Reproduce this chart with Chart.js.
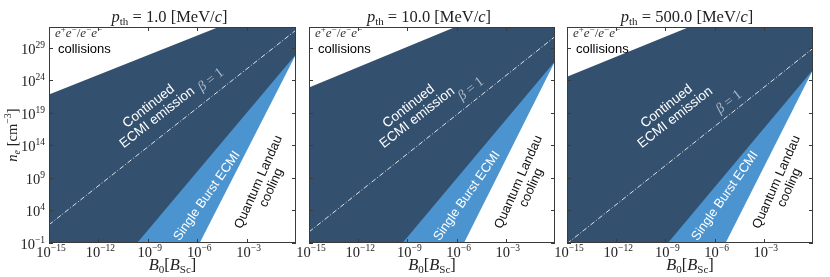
<!DOCTYPE html>
<html lang="en">
<head>
<meta charset="UTF-8">
<title>ECMI regimes</title>
<script src="https://cdn.jsdelivr.net/npm/chart.js"></script>
<style>
  body { margin: 0; background: #fff; }
  #wrap { position: relative; width: 830px; height: 277px; }
  #wrap canvas { position: absolute; left: 0; top: 0; }
</style>
</head>
<body>
<div id="wrap">
  <canvas id="c0" width="830" height="277"></canvas>
  <canvas id="c1" width="830" height="277"></canvas>
  <canvas id="c2" width="830" height="277"></canvas>
</div>
<script>
// thermal momentum of each panel, MeV/c
const momenta = ['1.0', '10.0', '500.0'];
// tick positions, log10
const xTicks = [-15, -12, -9, -6, -3];
const yTicks = [-1, 4, 9, 14, 19, 24, 29];

// boundaries as [log10 B0, log10 n_e] pairs, one list per panel
const collisionEdge = [[[-15, 21.8], [0, 36.9]], [[-15, 22.9], [0, 38.5]], [[-15, 24.55], [0, 39.9]]];
const betaOne = [[[-15, 1.8], [0, 31.7]], [[-15, 0.7], [0, 30.7]], [[-15, -1.1], [0, 28.9]]];
const burstEdge = [[[-9.65, -1], [0, 28]], [[-9.3, -1], [0, 26.9]], [[-8.85, -1], [0, 25.6]]];
const landauEdge = [[[-5.85, -1], [0, 28]], [[-5.55, -1], [0, 26.9]], [[-5.33, -1], [0, 25.6]]];

// layout
const boxes = [[49, 296], [309, 555], [567, 813]];
const TOP = 27, BOTTOM = 243;
const betaLabelY = [80, 89, 102];

const DARK = '#34506f', LIGHT = '#4b94cf';
const SERIF = 'Liberation Serif', SANS = 'Liberation Sans';

const pts = arr => arr.map(([lx, ly]) => ({ x: Math.pow(10, lx), y: Math.pow(10, ly) }));

function rich(ctx, parts, x, y, align) {
    let w = 0;
    parts.forEach(p => { ctx.font = p[1]; w += ctx.measureText(p[0]).width; });
    let cx = align === 'center' ? x - w / 2 : align === 'right' ? x - w : x;
    ctx.textAlign = 'left';
    parts.forEach(p => {
        ctx.font = p[1];
        ctx.fillText(p[0], cx, y + (p[2] || 0));
        cx += ctx.measureText(p[0]).width;
    });
}

function power(exp) {
    return [['10', '14.5px ' + SERIF], [exp < 0 ? '\u2212' + (-exp) : String(exp), '9.5px ' + SERIF, -6]];
}

function rotated(ctx, lines, cx, cy, deg, font, color, lh) {
    ctx.save();
    ctx.translate(cx, cy);
    ctx.rotate(deg * Math.PI / 180);
    ctx.font = font;
    ctx.fillStyle = color;
    ctx.textAlign = 'center';
    ctx.textBaseline = 'middle';
    lines.forEach((t, k) => ctx.fillText(t, 0, (k - (lines.length - 1) / 2) * lh));
    ctx.restore();
}

const decor = {
    id: 'decor',
    afterDatasetsDraw(chart, args, opts) {
        const ctx = chart.ctx, a = chart.chartArea;
        const xs = chart.scales.x, ys = chart.scales.y;
        const i = opts.panel, L = a.left;
        ctx.save();

        // region labels
        rotated(ctx, ['Continued', 'ECMI emission'], L + 104, 112, -38, '13.5px ' + SANS, '#ffffff', 14);
        rotated(ctx, ['Single Burst ECMI'], L + 158, 196, -55, '13px ' + SANS, '#ffffff', 14);
        rotated(ctx, ['Quantum Landau', 'cooling'], L + 216, 185, -66, '13px ' + SANS, '#111111', 14);
        ctx.save();
        ctx.translate(L + 162, betaLabelY[i]);
        ctx.rotate(-38 * Math.PI / 180);
        ctx.fillStyle = '#aeb8c4';
        ctx.textBaseline = 'middle';
        rich(ctx, [['\u03b2', 'italic 14px ' + SERIF], [' = 1', '14px ' + SERIF]], 0, 0, 'center');
        ctx.restore();

        ctx.fillStyle = '#333';
        ctx.textBaseline = 'alphabetic';
        const it = 'italic 13px ' + SERIF, sup = '9px ' + SERIF;
        rich(ctx, [['e', it], ['+', sup, -5], ['e', it], ['\u2212', sup, -5], ['/', '13px ' + SERIF], ['e', it], ['\u2212', sup, -5], ['e', it], ['\u2212', sup, -5]], L + 6, 37, 'left');
        ctx.fillStyle = '#000';
        ctx.font = '13px ' + SANS;
        ctx.fillText('collisions', L + 9, 53);

        // frame and inward ticks
        ctx.strokeStyle = '#3a3a3a';
        ctx.lineWidth = 1;
        ctx.strokeRect(a.left + 0.5, a.top + 0.5, a.right - a.left - 1, a.bottom - a.top - 1);
        ctx.beginPath();
        xTicks.forEach(v => {
            const px = Math.round(xs.getPixelForValue(Math.pow(10, v))) + 0.5;
            ctx.moveTo(px, a.bottom); ctx.lineTo(px, a.bottom - 4);
            ctx.moveTo(px, a.top); ctx.lineTo(px, a.top + 4);
        });
        yTicks.forEach(v => {
            const py = Math.round(ys.getPixelForValue(Math.pow(10, v))) + 0.5;
            ctx.moveTo(a.left, py); ctx.lineTo(a.left + 4, py);
            ctx.moveTo(a.right, py); ctx.lineTo(a.right - 4, py);
        });
        ctx.stroke();

        // tick labels
        ctx.fillStyle = '#222';
        xTicks.forEach(v => {
            rich(ctx, power(v), xs.getPixelForValue(Math.pow(10, v)) + 2, a.bottom + 14, 'center');
        });
        if (i === 0) {
            yTicks.forEach(v => {
                rich(ctx, power(v), 45, ys.getPixelForValue(Math.pow(10, v)) + 6, 'right');
            });
        }

        // titles
        const mid = (a.left + a.right) / 2;
        const big = '16.5px ' + SERIF, bigI = 'italic 16.5px ' + SERIF, sm = '11px ' + SERIF;
        rich(ctx, [['p', bigI], ['th', sm, 3], [' = ' + momenta[i] + ' [MeV/', big], ['c', bigI], [']', big]], mid - 3, 22, 'center');
        rich(ctx, [['B', bigI], ['0', sm, 3], ['[', big], ['B', bigI], ['Sc', sm, 3], [']', big]], mid, 270, 'center');
        if (i === 0) {
            const yb = '14.5px ' + SERIF;
            ctx.save();
            ctx.translate(17, (a.top + a.bottom) / 2);
            ctx.rotate(-Math.PI / 2);
            rich(ctx, [['n', 'italic ' + yb], ['e', 'italic 10px ' + SERIF, 3], [' [cm', yb], ['\u22123', '10px ' + SERIF, -6], [']', yb]], 0, 0, 'center');
            ctx.restore();
        }
        ctx.restore();
    }
};

momenta.forEach((p, i) => {
    const area = { borderWidth: 0, pointRadius: 0, showLine: true, fill: 'start' };
    new Chart(document.getElementById('c' + i), {
        type: 'scatter',
        data: {
            datasets: [
                { ...area, label: 'Continued ECMI emission', data: pts(collisionEdge[i]), backgroundColor: DARK, order: 4 },
                { ...area, label: 'Single Burst ECMI', data: pts(burstEdge[i]), backgroundColor: LIGHT, order: 3 },
                { ...area, label: 'Quantum Landau cooling', data: pts(landauEdge[i]), backgroundColor: '#ffffff', order: 2 },
                {
                    label: 'beta = 1', data: pts(betaOne[i]), showLine: true, fill: false, pointRadius: 0,
                    borderColor: '#dde2e8', borderWidth: 1, borderDash: [5, 2, 1, 2], order: 1
                }
            ]
        },
        options: {
            responsive: false,
            animation: false,
            events: [],
            layout: { padding: { left: boxes[i][0], right: 830 - boxes[i][1], top: TOP, bottom: 277 - BOTTOM } },
            scales: {
                x: { type: 'logarithmic', min: 1e-15, max: 1, display: false },
                y: { type: 'logarithmic', min: 0.1, max: 1.5e32, display: false }
            },
            plugins: {
                legend: { display: false },
                tooltip: { enabled: false },
                decor: { panel: i }
            }
        },
        plugins: [decor]
    });
});
</script>
</body>
</html>
